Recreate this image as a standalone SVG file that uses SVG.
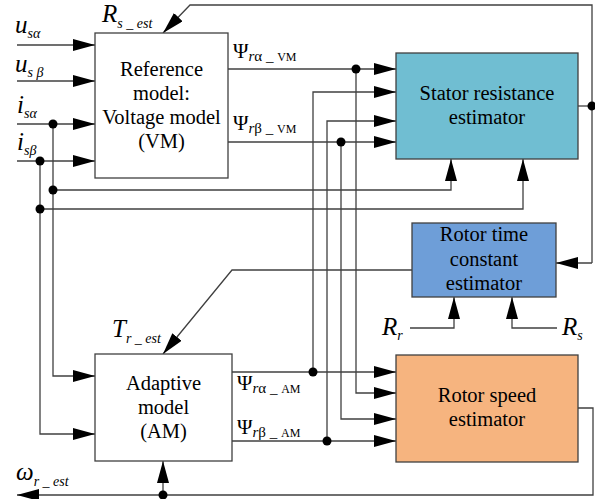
<svg xmlns="http://www.w3.org/2000/svg" width="595" height="499" viewBox="0 0 595 499" font-family="'Liberation Serif', 'DejaVu Serif', serif">
<style>
text{font-family:'Liberation Serif','DejaVu Serif',serif;fill:#000}
.box{stroke:#404040;stroke-width:1.3}
.w{fill:#fff}
.ln{fill:none;stroke:#404040;stroke-width:1.3}
.la{fill:none;stroke:#404040;stroke-width:1.3;marker-end:url(#ah)}
.dot{fill:#000}
.c{text-anchor:middle;font-size:20.5px}
.sym{font-style:italic;font-size:25px}
.sub{font-style:italic;font-size:14px}
.psi{font-size:21px}
.ps{font-size:15px}
.pm{font-size:12px}
</style>
<defs>
<marker id="ah" markerUnits="userSpaceOnUse" markerWidth="22" markerHeight="12" refX="22" refY="6" orient="auto">
<path d="M0,0 L22,6 L0,12 z" fill="#000"/>
</marker>
</defs>
<rect width="595" height="499" fill="#fff"/>

<g id="connectors">
<path class="la" d="M17,45 H95"/>
<path class="la" d="M17,81 H95"/>
<path class="la" d="M17,124 H95"/>
<path class="la" d="M17,161 H95"/>
<path class="la" d="M53,124 V376 H95"/>
<path class="la" d="M40,161 V434 H95"/>
<path class="la" d="M53,190 H451 V159"/>
<path class="la" d="M40,209 H523 V159"/>
<path class="la" d="M228,69 H396"/>
<path class="la" d="M356,69 V393 H396"/>
<path class="la" d="M228,142 H396"/>
<path class="la" d="M341,142 V419 H396"/>
<path class="la" d="M232,372 H396"/>
<path class="la" d="M313,372 V92 H396"/>
<path class="la" d="M232,441 H396"/>
<path class="la" d="M327,441 V121 H396"/>
<path class="ln" d="M578,106 H592"/>
<path class="la" d="M592,263 V5 H190 L163,33"/>
<path class="la" d="M592,263 H556"/>
<path class="la" d="M412,270 H232 L163,354"/>
<path class="la" d="M410,328 H454 V297"/>
<path class="la" d="M557,328 H512 V297"/>
<path class="la" d="M578,408 H593 V495 H17"/>
<path class="la" d="M163,495 V461"/>
<circle class="dot" cx="53" cy="124" r="4.5"/>
<circle class="dot" cx="40" cy="161" r="4.5"/>
<circle class="dot" cx="53" cy="190" r="4.5"/>
<circle class="dot" cx="40" cy="209" r="4.5"/>
<circle class="dot" cx="356" cy="69" r="4.5"/>
<circle class="dot" cx="341" cy="142" r="4.5"/>
<circle class="dot" cx="313" cy="372" r="4.5"/>
<circle class="dot" cx="327" cy="441" r="4.5"/>
<circle class="dot" cx="592" cy="106" r="4.5"/>
<circle class="dot" cx="163" cy="495" r="4.5"/>
</g>

<g id="vm">
<rect class="box w" x="95" y="33" width="133" height="145"/>
<text class="c" x="161.5" y="76">Reference</text>
<text class="c" x="161.5" y="100">model:</text>
<text class="c" x="161.5" y="124">Voltage model</text>
<text class="c" x="161.5" y="148">(VM)</text>
</g>

<g id="stator">
<rect class="box" x="396" y="53" width="182" height="106" fill="#70BED2"/>
<text class="c" x="487" y="100">Stator resistance</text>
<text class="c" x="487" y="124">estimator</text>
</g>

<g id="rotortime">
<rect class="box" x="412" y="223" width="144" height="74" fill="#6E9ED8"/>
<text class="c" x="484" y="241">Rotor time</text>
<text class="c" x="484" y="266">constant</text>
<text class="c" x="484" y="290">estimator</text>
</g>

<g id="am">
<rect class="box w" x="95" y="354" width="137" height="107"/>
<text class="c" x="163.5" y="390">Adaptive</text>
<text class="c" x="163.5" y="414">model</text>
<text class="c" x="163.5" y="438">(AM)</text>
</g>

<g id="rotorspeed">
<rect class="box" x="396" y="355" width="182" height="107" fill="#F6B47F"/>
<text class="c" x="487" y="402">Rotor speed</text>
<text class="c" x="487" y="426">estimator</text>
</g>

<g id="labels">
<text x="15" y="33"><tspan class="sym">u</tspan><tspan class="sub" dy="5">sα</tspan></text>
<text x="15" y="72"><tspan class="sym">u</tspan><tspan class="sub" dy="5">s β</tspan></text>
<text x="17" y="113"><tspan class="sym">i</tspan><tspan class="sub" dy="5">sα</tspan></text>
<text x="17" y="150"><tspan class="sym">i</tspan><tspan class="sub" dy="5">sβ</tspan></text>
<text x="102" y="22"><tspan class="sym">R</tspan><tspan class="sub" dy="6">s _ est</tspan></text>
<text x="112" y="337"><tspan class="sym">T</tspan><tspan class="sub" dy="6">r _ est</tspan></text>
<text x="16" y="480"><tspan class="sym">ω</tspan><tspan class="sub" dy="6">r _ est</tspan></text>
<text x="382" y="335"><tspan class="sym">R</tspan><tspan class="sub" dy="5">r</tspan></text>
<text x="562" y="335"><tspan class="sym">R</tspan><tspan class="sub" dy="5">s</tspan></text>
<text x="233" y="58"><tspan class="psi">Ψ</tspan><tspan class="ps" dy="3" font-style="italic">r</tspan><tspan class="ps">α _ </tspan><tspan class="pm">VM</tspan></text>
<text x="233" y="130"><tspan class="psi">Ψ</tspan><tspan class="ps" dy="3" font-style="italic">r</tspan><tspan class="ps">β _ </tspan><tspan class="pm">VM</tspan></text>
<text x="237" y="390"><tspan class="psi">Ψ</tspan><tspan class="ps" dy="3" font-style="italic">r</tspan><tspan class="ps">α _ </tspan><tspan class="pm">AM</tspan></text>
<text x="237" y="434"><tspan class="psi">Ψ</tspan><tspan class="ps" dy="3" font-style="italic">r</tspan><tspan class="ps">β _ </tspan><tspan class="pm">AM</tspan></text>
</g>
</svg>
